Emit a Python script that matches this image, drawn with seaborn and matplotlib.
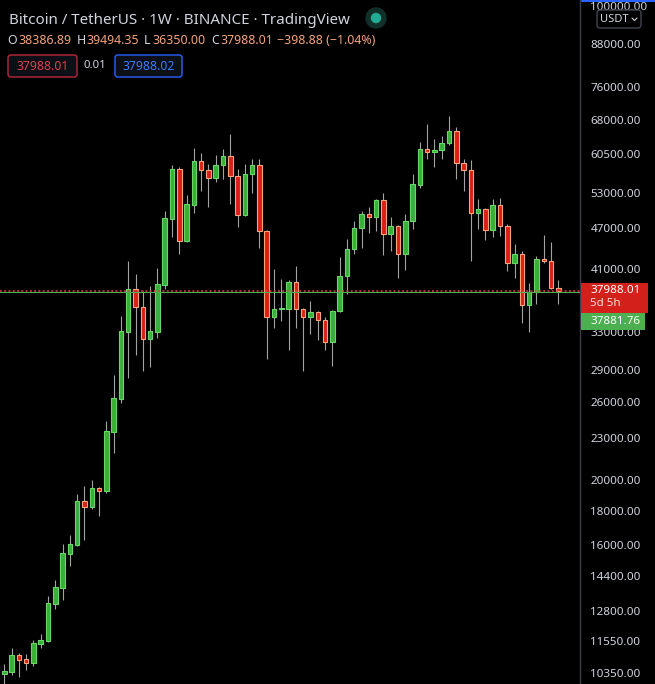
import numpy as np
import pandas as pd
import matplotlib
matplotlib.use('Agg')
import matplotlib.pyplot as plt
import seaborn as sns
from matplotlib.patches import FancyBboxPatch, Rectangle, Ellipse
from matplotlib.lines import Line2D
from matplotlib.ticker import FixedLocator, NullLocator, NullFormatter

# weekly BTC/USDT candles
opens = [10330, 10400, 11016, 10870, 10720, 11440, 11550, 13100, 13840, 15530,
         16010, 18600, 18220, 19440, 19240, 23520, 26310, 33040, 38250, 35980,
         32270, 33040, 38770, 48530, 57520, 45030, 50900, 59110, 57330, 55790,
         58310, 60120, 56170, 49200, 56560, 58310, 46590, 34770, 35730, 35730,
         39170, 35730, 34770, 35370, 34420, 31940, 35490, 39980, 43820, 47070,
         49360, 48860, 51770, 46120, 47390, 43080, 48200, 54480, 61570, 60950,
         61370, 62850, 65460, 58710, 57330, 49530, 50210, 46750, 50900, 47390,
         41790, 43080, 36220, 37860, 42360, 42070, 38386.89]
highs = [10680, 11280, 11090, 11050, 11590, 11830, 13460, 14220, 16070, 16570,
         19050, 19570, 19980, 19510, 24420, 28550, 34890, 42070, 40250, 37990,
         38640, 41080, 49870, 58310, 57900, 52660, 61790, 60750, 58510, 60330,
         61570, 64800, 57520, 58510, 59510, 59510, 46750, 40940, 39570, 39440,
         41360, 35860, 36720, 35500, 34770, 35600, 42650, 45340, 48200, 49870,
         50550, 51940, 53020, 48860, 47500, 49360, 56560, 63050, 67040, 63700,
         64360, 68890, 66360, 59510, 59310, 51940, 50400, 51940, 52120, 47710,
         44580, 43530, 39040, 42790, 45960, 44880, 39494.35]
lows = [9800, 10290, 10220, 10470, 10610, 11280, 11510, 12880, 13280, 14910,
        15960, 16290, 18100, 17670, 19110, 21900, 25960, 28260, 30560, 28940,
        29340, 32380, 38250, 45650, 43080, 44900, 49530, 53380, 50550, 55040,
        55600, 51070, 47230, 49030, 53020, 43970, 30150, 33500, 34310, 31080,
        33500, 28940, 32820, 32160, 31080, 29440, 35400, 37600, 43080, 43970,
        46280, 46590, 42940, 43530, 39710, 40800, 46910, 53930, 59510, 57920,
        59510, 62420, 55600, 53380, 42070, 46910, 45190, 45650, 45800, 40670,
        39710, 34080, 33050, 36350, 41790, 38250, 36350.00]
closes = [10430, 11020, 10830, 10720, 11480, 11590, 13150, 13880, 15590, 16070,
          18600, 18220, 19440, 19240, 23600, 26400, 33160, 38250, 35980, 32270,
          33160, 38910, 48700, 57520, 45030, 51070, 59110, 57330, 55790, 58310,
          60120, 56170, 49200, 56560, 58310, 46590, 34770, 35730, 35860, 39170,
          35730, 34770, 35370, 34420, 31940, 35490, 39980, 43820, 47070, 49360,
          48860, 51770, 46120, 47390, 43080, 48200, 54670, 61570, 60950, 61370,
          62850, 65460, 58710, 57330, 49530, 50210, 46750, 50900, 47390, 41790,
          43080, 36220, 37860, 42360, 42070, 38390, 37988.01]

price_ticks = [100000, 88000, 76000, 68000, 60500, 53000, 47000, 41000, 33000,
               29000, 26000, 23000, 20000, 18000, 16000, 14400, 12800, 11550, 10350]
last_price = 37988.01
other_price = 37881.76

df = pd.DataFrame({'open': opens, 'high': highs, 'low': lows, 'close': closes})
df['week'] = np.arange(len(df))
df['up'] = df['close'] >= df['open']

sns.set_theme(style='dark', rc={'axes.facecolor': 'black', 'figure.facecolor': 'black',
                                'axes.grid': False})
plt.rcParams['font.family'] = ['Noto Sans', 'DejaVu Sans']

W, H = 655, 684
fig = plt.figure(figsize=(W / 100, H / 100), dpi=100)
ax = fig.add_axes([0, 0, 580 / W, 1])
ax.set_facecolor('black')

GREEN, GREEN_EDGE = '#3aae3a', '#6ad66a'
RED, RED_EDGE = '#d91f16', '#f8a57c'

# wicks
ax.vlines(df['week'], df['low'], df['high'], color='#a3a3a3', linewidth=0.8, zorder=1)

# bodies
bottoms = df[['open', 'close']].min(axis=1)
heights = (df['close'] - df['open']).abs()
ax.bar(df['week'], heights, bottom=bottoms, width=0.62,
       color=np.where(df['up'], GREEN, RED),
       edgecolor=np.where(df['up'], GREEN_EDGE, RED_EDGE),
       linewidth=0.8, zorder=2)

ax.axhline(other_price, color='#4caf50', linewidth=0.8, zorder=3)
ax.axhline(last_price, color='#f23645', linewidth=1.1, linestyle=(0, (1.2, 1.6)), zorder=3)

ax.set_yscale('log')
ax.set_ylim(9977, 102205)
ax.set_xlim(-0.59, 78.97)
ax.yaxis.set_major_locator(FixedLocator(price_ticks))
ax.yaxis.set_major_formatter(matplotlib.ticker.FuncFormatter(lambda v, p: f'{v:.2f}'))
ax.yaxis.set_minor_locator(NullLocator())
ax.yaxis.set_minor_formatter(NullFormatter())
ax.yaxis.tick_right()
ax.tick_params(axis='y', length=0, pad=7.5, labelsize=8.4, labelcolor='#d1d4dc')
ax.set_xticks([])
for s in ['top', 'left', 'bottom']:
    ax.spines[s].set_visible(False)
ax.spines['right'].set_color('#3a3e48')
ax.spines['right'].set_linewidth(1)


def fx(x):
    return x / W


def fy(y):
    return 1 - y / H


# header
fig.text(fx(9), fy(20), 'Bitcoin / TetherUS · 1W · BINANCE · TradingView',
         color='#d1d4dc', fontsize=10.9, va='center', ha='left')
fig.add_artist(Ellipse((fx(376), fy(18)), 20 / W, 20 / H, color='#11302a'))
fig.add_artist(Ellipse((fx(376), fy(18)), 9 / W, 9 / H, color='#22ab94'))

ORANGE = '#f4a47a'
LIGHT = '#d1d4dc'
parts = [(7, 'O', LIGHT), (18, '38386.89', ORANGE), (77, 'H', LIGHT), (86, '39494.35', ORANGE),
         (144, 'L', LIGHT), (152, '36350.00', ORANGE), (211, 'C', LIGHT), (220, '37988.01', ORANGE),
         (277, '\u2212398.88 (\u22121.04%)', ORANGE)]
for x, t, c in parts:
    fig.text(fx(x), fy(40), t, color=c, fontsize=8.9, va='center', ha='left')

fig.add_artist(FancyBboxPatch((fx(8), fy(77)), 69 / W, 22 / H,
                              boxstyle='round,pad=0,rounding_size=0.004',
                              facecolor='#0d0f16', edgecolor='#b8283a', linewidth=1))
fig.text(fx(42.5), fy(66), '37988.01', color='#e0404e', fontsize=8.8, va='center', ha='center')
fig.text(fx(95), fy(66), '0.01', color='#d1d4dc', fontsize=8.2, va='center', ha='center',
         fontweight='bold')
fig.add_artist(FancyBboxPatch((fx(115), fy(77)), 67 / W, 22 / H,
                              boxstyle='round,pad=0,rounding_size=0.004',
                              facecolor='#0d0f16', edgecolor='#2962ff', linewidth=1))
fig.text(fx(148.5), fy(66), '37988.02', color='#3a7bff', fontsize=8.8, va='center', ha='center')

# currency button on the price scale
fig.add_artist(FancyBboxPatch((fx(597), fy(28)), 44 / W, 18 / H,
                              boxstyle='round,pad=0,rounding_size=0.005',
                              facecolor='black', edgecolor='#434651', linewidth=1, zorder=5))
fig.text(fx(600), fy(19), 'USDT', color='#d1d4dc', fontsize=8, va='center', ha='left', zorder=6)
fig.add_artist(Line2D([fx(632), fx(634.5), fx(637)], [fy(18), fy(20.5), fy(18)],
                      color='#d1d4dc', linewidth=0.8, zorder=6))
fig.add_artist(Line2D([fx(582), fx(655)], [fy(0.5), fy(0.5)], color='#2962ff', linewidth=1.5))

# last price labels
fig.add_artist(Rectangle((fx(581), fy(313)), 67 / W, 30 / H, facecolor='#d3201a',
                         edgecolor='none', zorder=5))
fig.text(fx(590), fy(290.5), '37988.01', color='white', fontsize=8.4, va='center', ha='left', zorder=6)
fig.text(fx(590), fy(304), '5d 5h', color='#f6dada', fontsize=8.4, va='center', ha='left', zorder=6)
fig.add_artist(Rectangle((fx(581), fy(330)), 64 / W, 17 / H, facecolor='#4caf50',
                         edgecolor='none', zorder=5))
fig.text(fx(590), fy(321.5), '37881.76', color='white', fontsize=8.4, va='center', ha='left', zorder=6)

fig.savefig('out.png', dpi=100, facecolor='black')
